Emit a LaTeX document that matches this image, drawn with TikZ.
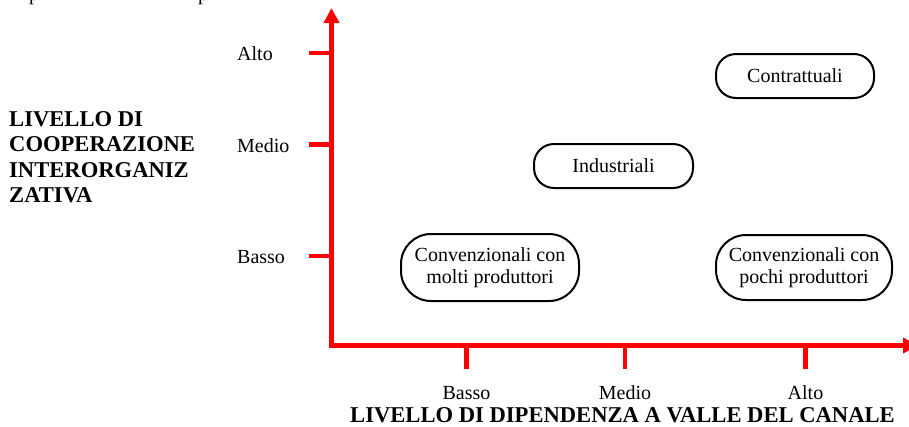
\documentclass[tikz,border=0pt]{standalone}
\usepackage{fontspec}
\setmainfont{Liberation Serif}
\usetikzlibrary{arrows.meta}
\begin{document}
\begin{tikzpicture}[x=1pt,y=-1pt,
  axisline/.style={red, line width=4.5pt, line join=miter},
  axistick/.style={red, line width=4.5pt},
  lbl/.style={font=\fontsize{20}{23}\selectfont, inner sep=0pt},
  heading/.style={font=\fontsize{22.6}{25.2}\selectfont\bfseries, inner sep=0pt},
  cluster/.style={draw=black, line width=2pt, rounded corners=#1, align=center,
    inner sep=0pt, font=\fontsize{20}{22}\selectfont},
]
\useasboundingbox (0,0) rectangle (909,426);
\clip (0,0) rectangle (909,426);

% descenders of the line of text above the chart
\node[lbl, anchor=base] (frag1) at (34,0.5) {p};
\node[lbl, anchor=base] (frag2) at (203,0.5) {p};

% axes
\coordinate (origin) at (331.5,345.5);
\coordinate (ytop) at (331.5,8);
\coordinate (xend) at (918,345.5);
\draw[axisline, {Triangle[length=15pt,width=15pt]}-{Triangle[length=15pt,width=15pt]}]
  (ytop) -- (origin) -- (xend);

% ticks on the vertical axis
\foreach \name/\y in {yalto/53, ymedio/144.5, ybasso/256}{
  \coordinate (\name) at (331.5,\y);
  \draw[axistick] (309,\y) -- (\name);
}
% ticks on the horizontal axis
\foreach \name/\x in {xbasso/466.5, xmedio/625, xalto/805.5}{
  \coordinate (\name) at (\x,345.5);
  \draw[axistick] (\name) -- (\x,369);
}

% tick labels
\node[lbl, anchor=base west] (lyalto) at (237,60) {Alto};
\node[lbl, anchor=base west] (lymedio) at (237,152) {Medio};
\node[lbl, anchor=base west] (lybasso) at (237,263) {Basso};
\node[lbl, anchor=base] (lxbasso) at (466.5,399) {Basso};
\node[lbl, anchor=base] (lxmedio) at (625,399) {Medio};
\node[lbl, anchor=base] (lxalto) at (805.5,399) {Alto};

% axis titles
\node[heading, anchor=north west, align=left] (ytitle) at (9,111.5)
  {LIVELLO DI\\COOPERAZIONE\\INTERORGANIZ\\ZATIVA};
\node[heading, anchor=base] (xtitle) at (622.5,422)
  {LIVELLO DI DIPENDENZA A VALLE DEL CANALE};

% channel types
\node[cluster=20pt, minimum width=158pt, minimum height=44pt] (contr) at (795,76) {Contrattuali};
\node[cluster=20pt, minimum width=159pt, minimum height=44pt] (indus) at (613.5,166) {Industriali};
\node[cluster=30pt, minimum width=178pt, minimum height=67pt] (molti) at (490,267.5)
  {Convenzionali con\\molti produttori};
\node[cluster=30pt, minimum width=176pt, minimum height=65pt] (pochi) at (804,267.5)
  {Convenzionali con\\pochi produttori};
\end{tikzpicture}
\end{document}
